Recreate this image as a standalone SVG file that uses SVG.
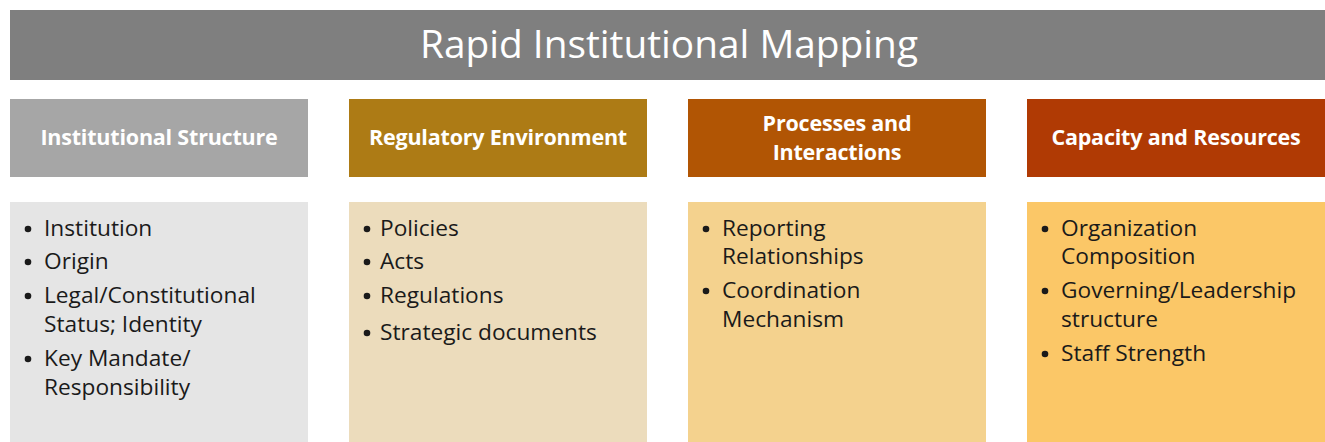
<svg xmlns="http://www.w3.org/2000/svg" width="1325" height="442" viewBox="0 0 1325 442">
<style>
.title{font-family:"Open Sans","Liberation Sans",sans-serif;font-size:38.8px;fill:#fff;text-anchor:middle}
.hd{font-family:"Open Sans","Liberation Sans",sans-serif;font-weight:bold;font-size:21.5px;fill:#fff;text-anchor:middle;letter-spacing:-0.2px}
.bt{font-family:"Open Sans","Liberation Sans",sans-serif;font-size:22.7px;fill:#1a1a1a}
.b{fill:#1a1a1a}
</style>
<rect width="1325" height="442" fill="#fff"/>
<g id="title">
<rect x="10" y="10" width="1315" height="70" fill="#7f7f7f"/>
<text class="title" x="669" y="58">Rapid Institutional Mapping</text>
</g>
<g id="col1">
<rect x="10" y="99" width="298" height="78" fill="#a6a6a6"/>
<text class="hd" x="159" y="145">Institutional Structure</text>
<rect x="10" y="202" width="298" height="240" fill="#e5e5e5"/>
<g class="b"><circle cx="28" cy="229" r="3.3"/><circle cx="28" cy="262" r="3.3"/><circle cx="28" cy="296" r="3.3"/><circle cx="28" cy="359" r="3.3"/></g>
<g class="bt">
<text x="44" y="236">Institution</text>
<text x="44" y="269">Origin</text>
<text x="44" y="303">Legal/Constitutional</text>
<text x="44" y="332">Status; Identity</text>
<text x="44" y="366">Key Mandate/</text>
<text x="44" y="395">Responsibility</text>
</g>
</g>
<g id="col2">
<rect x="349" y="99" width="298" height="78" fill="#ad7b15"/>
<text class="hd" x="498" y="145">Regulatory Environment</text>
<rect x="349" y="202" width="298" height="240" fill="#ecdcbc"/>
<g class="b"><circle cx="367" cy="229" r="3.3"/><circle cx="367" cy="262" r="3.3"/><circle cx="367" cy="296" r="3.3"/><circle cx="367" cy="333" r="3.3"/></g>
<g class="bt">
<text x="380" y="236">Policies</text>
<text x="380" y="269">Acts</text>
<text x="380" y="303">Regulations</text>
<text x="380" y="340">Strategic documents</text>
</g>
</g>
<g id="col3">
<rect x="688" y="99" width="298" height="78" fill="#b15504"/>
<text class="hd" x="837" y="131">Processes and</text>
<text class="hd" x="837" y="160">Interactions</text>
<rect x="688" y="202" width="298" height="240" fill="#f4d28e"/>
<g class="b"><circle cx="706" cy="229" r="3.3"/><circle cx="706" cy="291" r="3.3"/></g>
<g class="bt">
<text x="722" y="236">Reporting</text>
<text x="722" y="264">Relationships</text>
<text x="722" y="298">Coordination</text>
<text x="722" y="327">Mechanism</text>
</g>
</g>
<g id="col4">
<rect x="1027" y="99" width="298" height="78" fill="#b03a04"/>
<text class="hd" x="1176" y="145">Capacity and Resources</text>
<rect x="1027" y="202" width="298" height="240" fill="#fbc767"/>
<g class="b"><circle cx="1045" cy="229" r="3.3"/><circle cx="1045" cy="291" r="3.3"/><circle cx="1045" cy="354" r="3.3"/></g>
<g class="bt">
<text x="1061" y="236">Organization</text>
<text x="1061" y="264">Composition</text>
<text x="1061" y="298">Governing/Leadership</text>
<text x="1061" y="327">structure</text>
<text x="1061" y="361">Staff Strength</text>
</g>
</g>
<g id="connectors"/>
</svg>
